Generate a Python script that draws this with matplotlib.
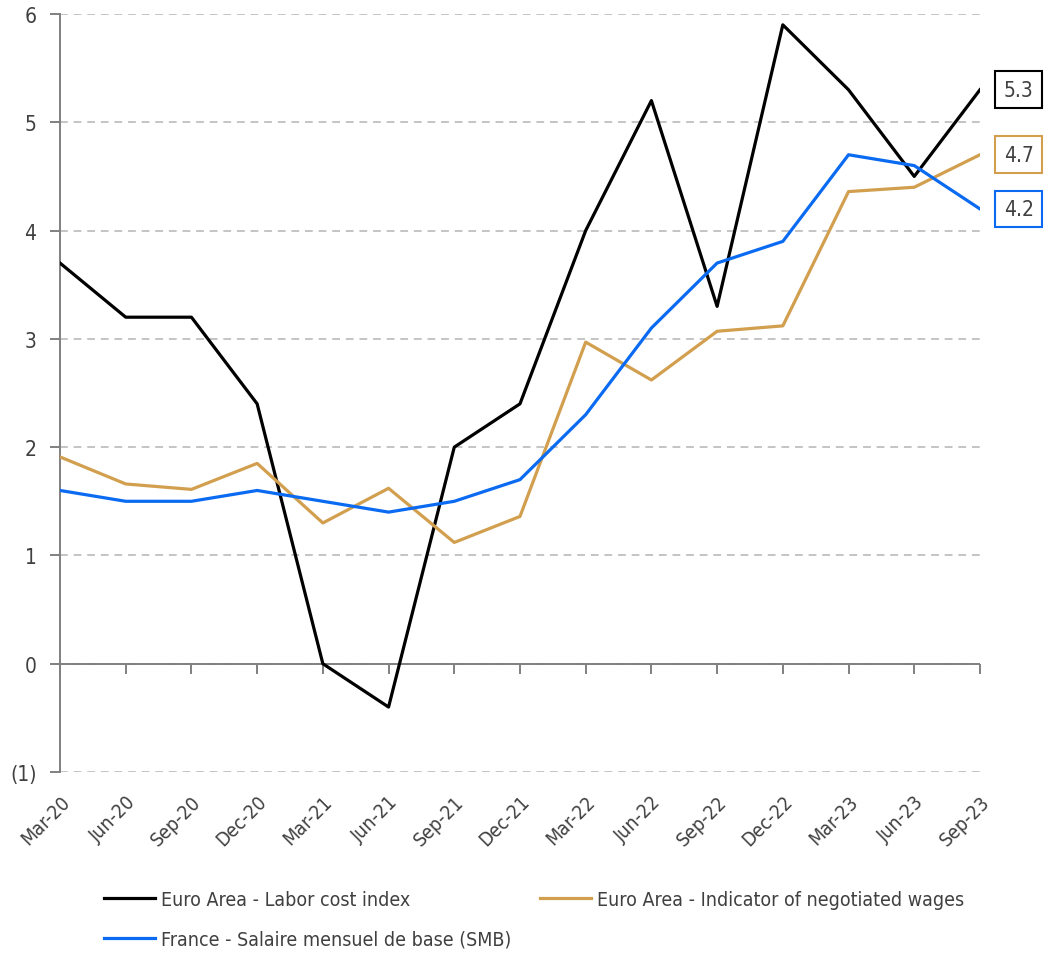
import matplotlib
matplotlib.use("Agg")
import matplotlib.pyplot as plt
from matplotlib.ticker import FuncFormatter, NullFormatter
from matplotlib import font_manager

quarters = ['Mar-20', 'Jun-20', 'Sep-20', 'Dec-20', 'Mar-21', 'Jun-21', 'Sep-21', 'Dec-21',
            'Mar-22', 'Jun-22', 'Sep-22', 'Dec-22', 'Mar-23', 'Jun-23', 'Sep-23']

labor_cost = [3.7, 3.2, 3.2, 2.4, 0.0, -0.4, 2.0, 2.4, 4.0, 5.2, 3.3, 5.9, 5.3, 4.5, 5.3]
negotiated = [1.91, 1.66, 1.61, 1.85, 1.30, 1.62, 1.12, 1.36, 2.97, 2.62, 3.07, 3.12, 4.36, 4.40, 4.70]
smb = [1.6, 1.5, 1.5, 1.6, 1.5, 1.4, 1.5, 1.7, 2.3, 3.1, 3.7, 3.9, 4.7, 4.6, 4.2]

names = ['Euro Area - Labor cost index', 'Euro Area - Indicator of negotiated wages',
         'France - Salaire mensuel de base (SMB)']
colors = ['#000000', '#D29F4F', '#0A6BF2']

# narrow font if there is one
fams = {f.name for f in font_manager.fontManager.ttflist}
condensed = [f for f in font_manager.fontManager.ttflist
             if f.name == 'DejaVu Sans' and f.stretch == 'condensed']
if 'Liberation Sans Narrow' in fams:
    plt.rcParams['font.family'] = ['Liberation Sans Narrow', 'DejaVu Sans']
elif condensed:
    plt.rcParams['font.family'] = ['DejaVu Sans']
    plt.rcParams['font.stretch'] = 'condensed'
else:
    plt.rcParams['font.family'] = ['Roboto', 'DejaVu Sans']
text_col = '#404040'
axis_col = '#808080'

fig = plt.figure(figsize=(10.51, 9.54), dpi=100)
ax = fig.add_axes([0.0571, 0.1897, 0.8753, 0.7946])

series = [labor_cost, negotiated, smb]
lines = []
for vals, name, c in zip(series, names, colors):
    ln, = ax.plot(quarters, vals, color=c, lw=2.3, label=name, zorder=3)
    lines.append(ln)

ymin, ymax = -1, 6
ax.set_xlim(0, len(quarters) - 1)
ax.set_ylim(ymin, ymax)
ax.set_yticks(range(-1, 7))
ax.yaxis.set_major_formatter(FuncFormatter(lambda v, p: f'({abs(int(v))})' if v < 0 else f'{int(v)}'))

ax.grid(axis='y', color='#C4C4C4', lw=1.4, linestyle=(0, (4, 3)))
ax.set_axisbelow(True)
for s in ['top', 'right', 'bottom']:
    ax.spines[s].set_visible(False)
ax.spines['left'].set_color(axis_col)
ax.spines['left'].set_linewidth(1.4)

ax.tick_params(axis='y', length=7, width=1.4, color=axis_col, labelsize=15, labelcolor=text_col, pad=10)
ax.tick_params(axis='x', length=0, labelsize=14, labelcolor=text_col, pad=14)
for lab in ax.get_xticklabels():
    lab.set_rotation(45)
    lab.set_ha('right')
    lab.set_rotation_mode('anchor')

# zero line with tick marks
ax.axhline(0, color=axis_col, lw=1.4, zorder=2)
zero_pos = (0 - ymin) / (ymax - ymin)
sec = ax.secondary_xaxis(zero_pos)
sec.set_xticks(range(len(quarters)))
sec.xaxis.set_major_formatter(NullFormatter())
sec.tick_params(axis='x', direction='out', length=7, width=1.4, color=axis_col)
for s in sec.spines.values():
    s.set_visible(False)

# end value boxes
for vals, c in zip(series, colors):
    ax.annotate(f'{vals[-1]:.1f}', xy=(len(quarters) - 1, vals[-1]), xytext=(17, 0),
                textcoords='offset points', ha='left', va='center', fontsize=15, color=text_col,
                annotation_clip=False,
                bbox=dict(boxstyle='square,pad=0.4', fc='white', ec=c, lw=1.5))

order = [0, 2, 1]
fig.legend([lines[i] for i in order], [names[i] for i in order],
           loc='upper left', bbox_to_anchor=(0.092, 0.074), ncol=2, frameon=False,
           fontsize=14, labelcolor=text_col, handlelength=2.6, handletextpad=0.3,
           columnspacing=1.5, labelspacing=1.05, borderaxespad=0)

fig.savefig('out.png', dpi=100)
